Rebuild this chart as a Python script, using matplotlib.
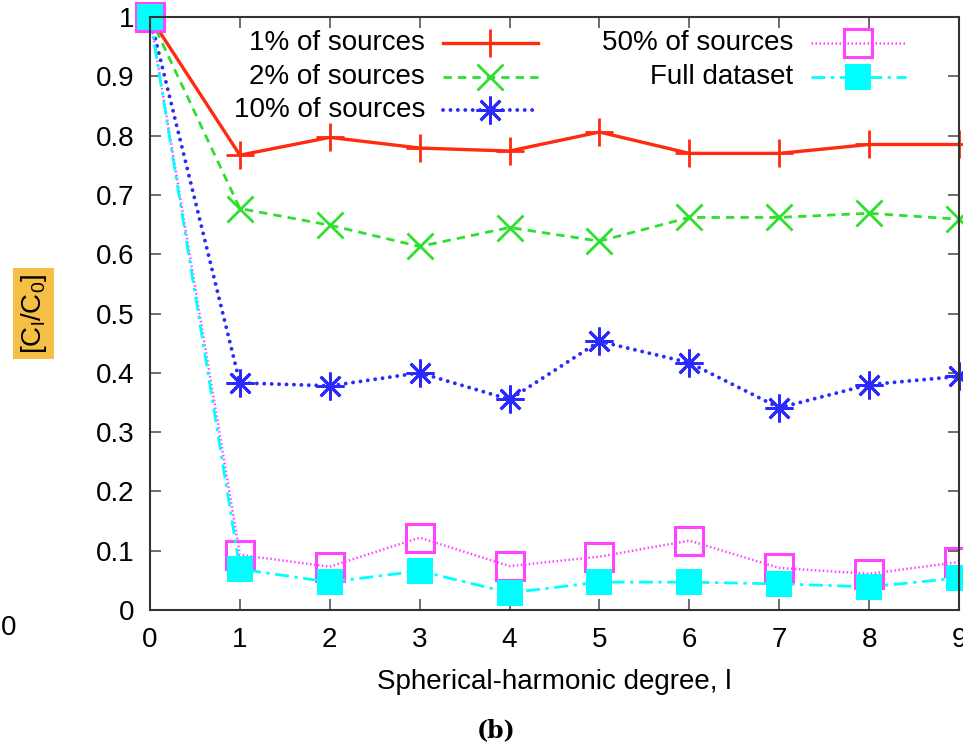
import numpy as np
import matplotlib
matplotlib.use("Agg")
import matplotlib.pyplot as plt

plt.rcParams['font.family'] = ['Liberation Sans', 'DejaVu Sans']
plt.rcParams['mathtext.default'] = 'regular'

# degree l
degree = [0, 1, 2, 3, 4, 5, 6, 7, 8, 9]

# C_l / C_0
pct1 = [1.0, 0.767, 0.797, 0.779, 0.774, 0.806, 0.770, 0.770, 0.785, 0.785]
pct2 = [1.0, 0.677, 0.649, 0.613, 0.645, 0.622, 0.662, 0.662, 0.669, 0.659]
pct10 = [1.0, 0.383, 0.378, 0.400, 0.355, 0.453, 0.417, 0.341, 0.380, 0.394]
pct50 = [1.0, 0.093, 0.073, 0.122, 0.074, 0.090, 0.117, 0.071, 0.061, 0.081]
full = [1.0, 0.069, 0.047, 0.066, 0.029, 0.047, 0.047, 0.044, 0.039, 0.054]

labels = ["1% of sources", "2% of sources", "10% of sources",
          "50% of sources", "Full dataset"]
yticks = [0, 0.1, 0.2, 0.3, 0.4, 0.5, 0.6, 0.7, 0.8, 0.9, 1]
ytick_labels = ["0", "0.1", "0.2", "0.3", "0.4", "0.5", "0.6", "0.7", "0.8", "0.9", "1"]

styles = [
    dict(color='#ff2a10', ls='-', lw=2.4, marker='+', ms=20, mew=2.0, mfc='none'),
    dict(color='#2ee02e', ls=(0, (3, 2.2)), lw=2.0, marker='x', ms=19, mew=2.0, mfc='none'),
    dict(color='#2a2aff', ls=(0, (0.01, 1.9)), lw=2.8, marker=(8, 2, 0), ms=20, mew=2.0,
         mfc='none', dash_capstyle='round'),
    dict(color='#ff44ff', ls=(0, (0.6, 1.0)), lw=1.8, marker='s', ms=20, mew=2.2, mfc='none'),
    dict(color='#00ffff', ls=(0, (5, 2, 1.2, 2)), lw=2.0, marker='s', ms=19, mew=0,
         mfc='#00ffff'),
]

fig = plt.figure(figsize=(9.63, 7.48), dpi=100)
ax = fig.add_axes([150 / 963, 1 - 610 / 748, 809 / 963, 593 / 748])

series = [pct1, pct2, pct10, pct50, full]
for ys, st in zip(series, styles):
    ax.plot(degree, ys, clip_on=False, **st)

ax.set_xlim(0, 9)
ax.set_ylim(0, 1)
ax.set_xticks(degree)
ax.set_xticklabels([str(d) for d in degree])
ax.set_yticks(yticks)
ax.set_yticklabels(ytick_labels)
ax.tick_params(direction='in', length=8, width=1.2, color='#555555',
               top=True, right=True, labelsize=20)
ax.tick_params(axis='x', pad=12)
ax.tick_params(axis='y', pad=11)
for sp in ax.spines.values():
    sp.set_linewidth(1.5)
    sp.set_color('#333333')

ax.set_xlabel("Spherical-harmonic degree, l", fontsize=20, labelpad=12)
ax.set_ylabel(r"[C$_l$/C$_0$]", fontsize=20,
              bbox=dict(boxstyle='square,pad=0.2', fc='#f5bf45', ec='none'))
ax.yaxis.set_label_coords(-0.125, 0.5)

# gnuplot-style key: text right-aligned, sample to its right
key_pos = [(0.340, 0.956), (0.340, 0.899), (0.340, 0.843),
           (0.795, 0.956), (0.795, 0.899)]
for (tx, ty), lab, st in zip(key_pos, labels, styles):
    ax.text(tx, ty, lab, transform=ax.transAxes, ha='right', va='center', fontsize=20)
    x0 = tx + 0.022
    x1 = x0 + 0.117
    line_st = {k: v for k, v in st.items() if k not in ('marker', 'ms', 'mew', 'mfc')}
    ax.plot([x0, x1], [ty, ty], transform=ax.transAxes, clip_on=False, **line_st)
    ax.plot([(x0 + x1) / 2], [ty], transform=ax.transAxes, clip_on=False,
            ls='none', color=st['color'], marker=st['marker'], ms=st['ms'],
            mew=st['mew'], mfc=st['mfc'])

fig.text(1 / 963, 1 - 628 / 748, "0", fontsize=20, ha='left', va='center')
fig.text(496 / 963, 1 - 730 / 748, "(b)", fontsize=17, fontweight='bold',
         family='DejaVu Serif', ha='center', va='center')

fig.savefig("out.png", dpi=100)
